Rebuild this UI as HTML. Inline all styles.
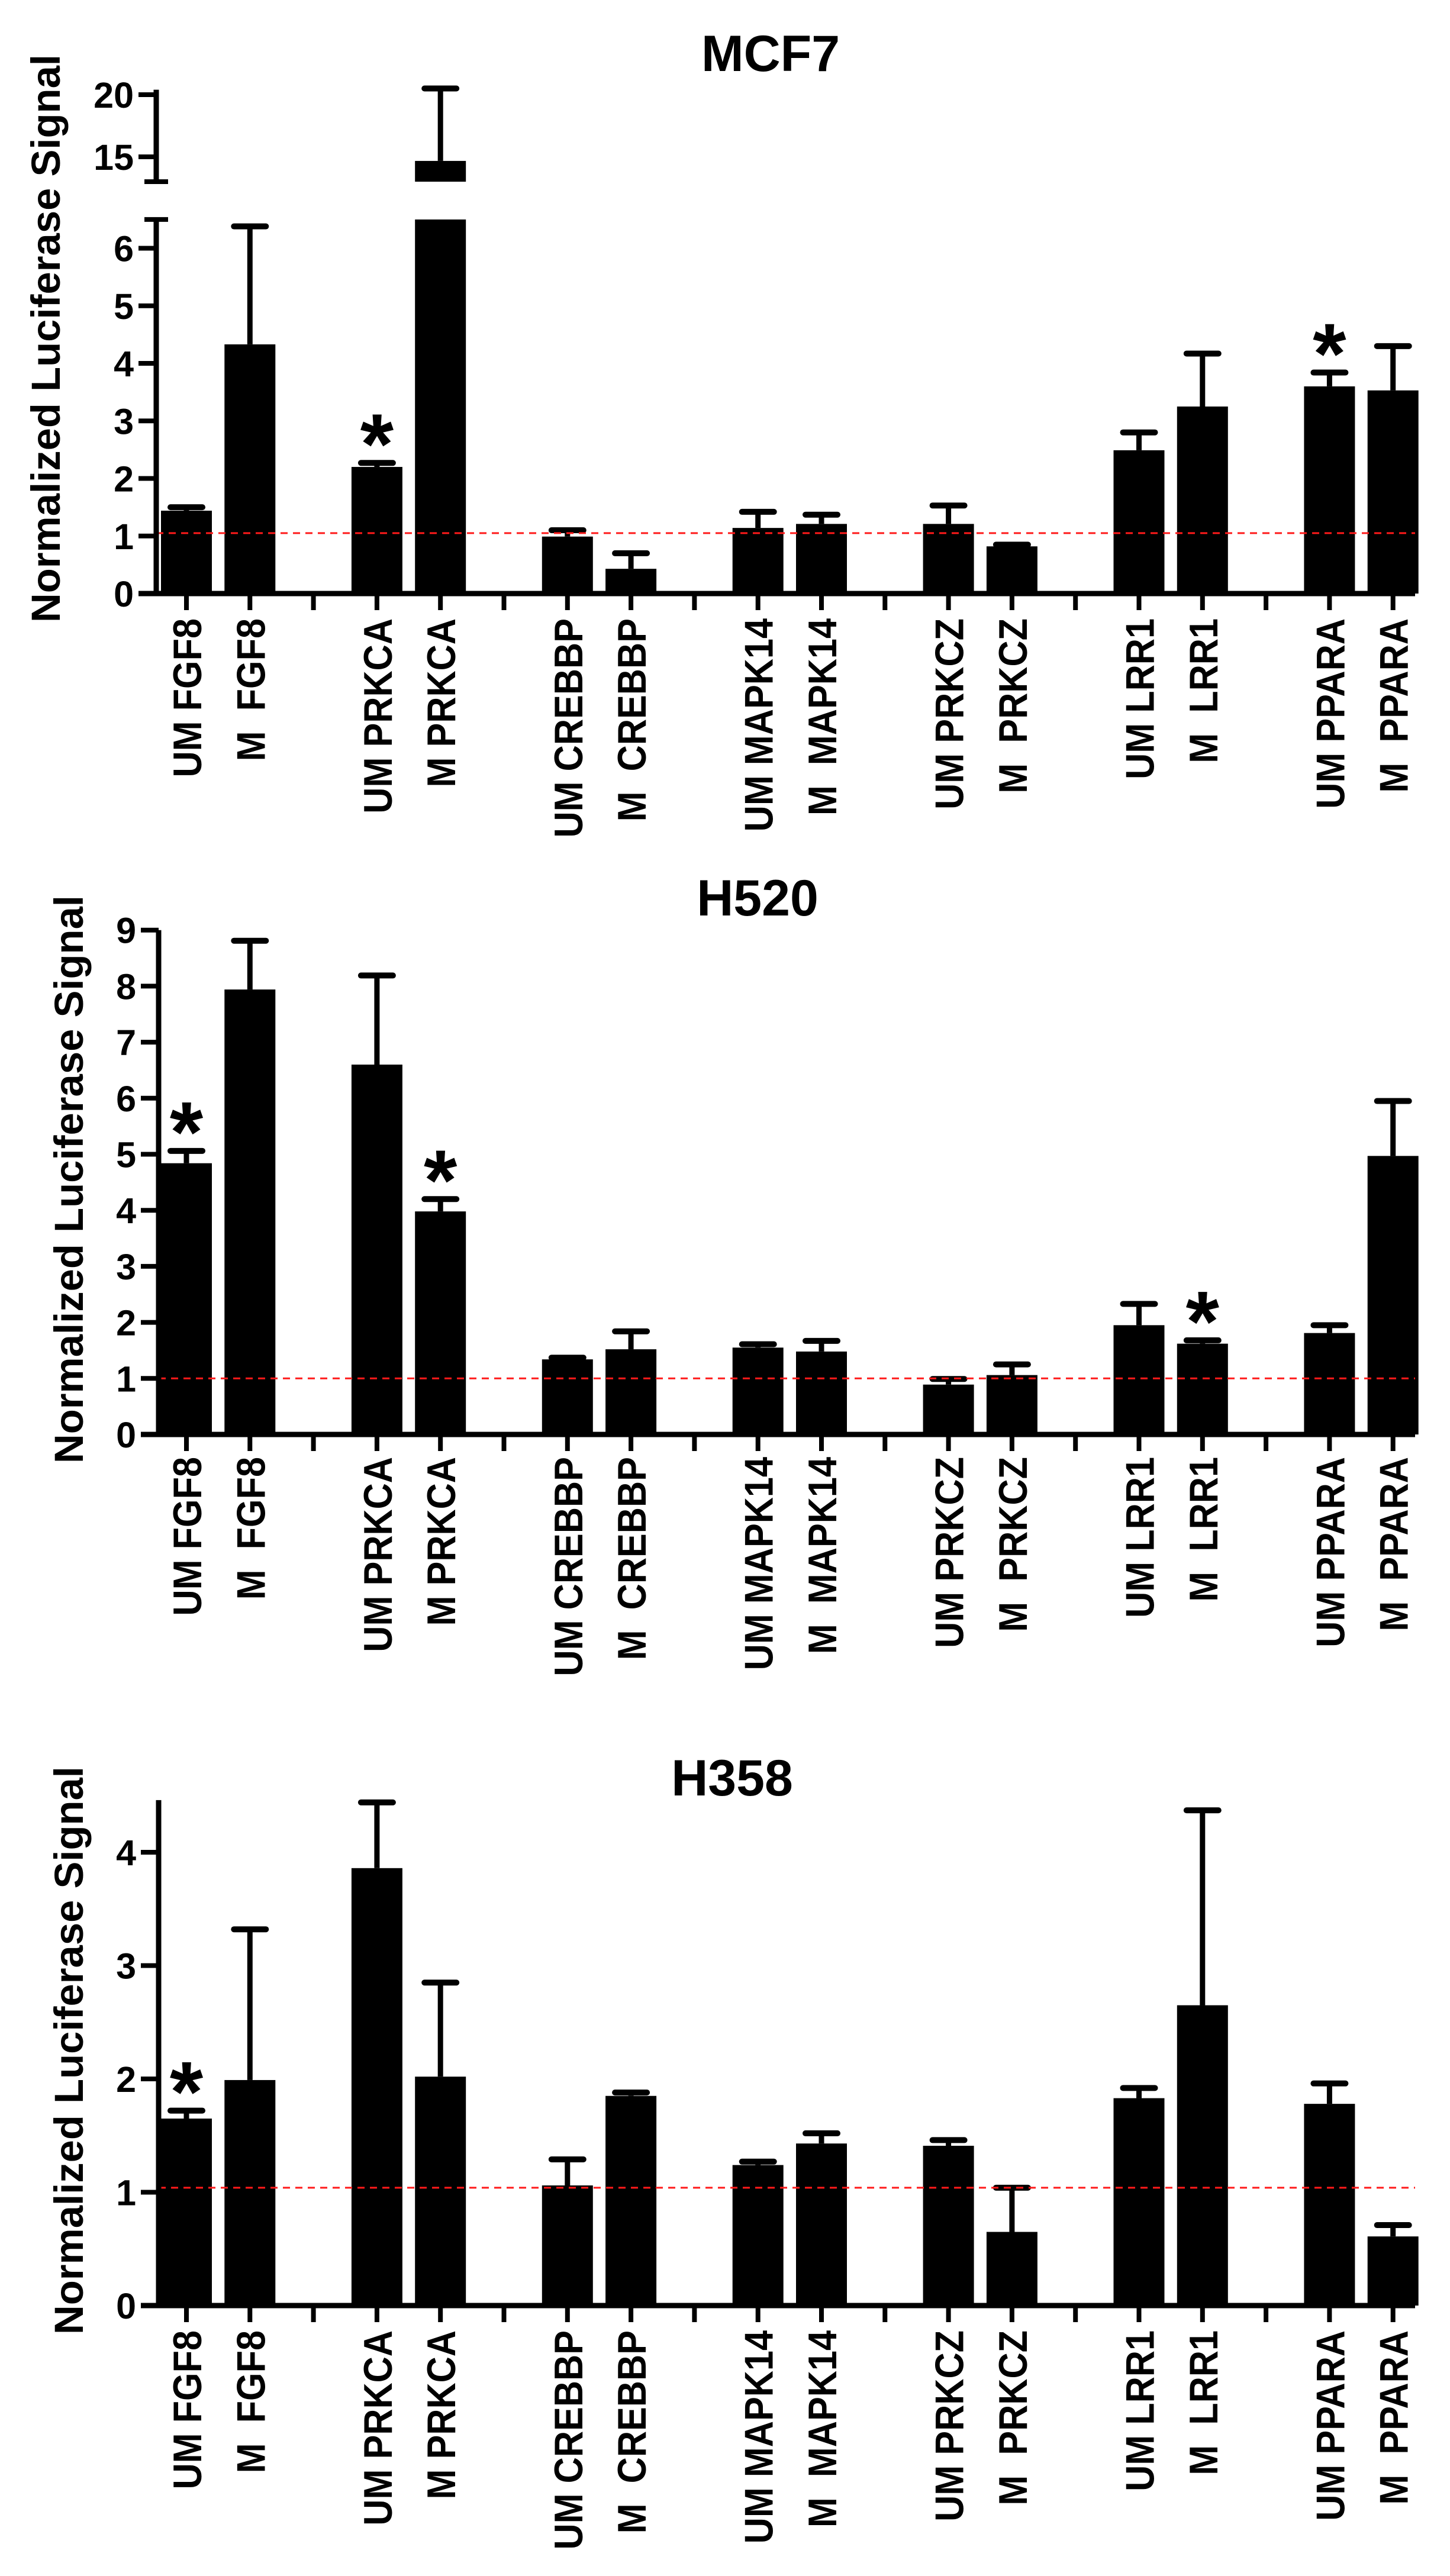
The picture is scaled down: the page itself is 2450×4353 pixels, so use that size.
<!DOCTYPE html>
<html><head><meta charset="utf-8"><style>
html,body{margin:0;padding:0;background:#fff;}
svg{display:block;}
text{font-family:"Liberation Sans",Arial,sans-serif;font-weight:bold;fill:#000;}
</style></head><body>
<svg id="fig" width="2450" height="4353" viewBox="0 0 2450 4353" xmlns="http://www.w3.org/2000/svg"></svg>
<script>
// ---- data ----
const categories = ["UM FGF8","M  FGF8","UM PRKCA","M PRKCA","UM CREBBP","M  CREBBP","UM MAPK14","M  MAPK14","UM PRKCZ","M  PRKCZ","UM LRR1","M  LRR1","UM PPARA","M  PPARA"];
const mcf7Values = [1.44,4.33,2.2,14.67,0.99,0.43,1.14,1.21,1.21,0.82,2.49,3.25,3.6,3.53];
const mcf7Errors = [0.06,2.05,0.07,5.83,0.11,0.27,0.28,0.16,0.32,0.03,0.31,0.92,0.24,0.77];
const mcf7Stars = [2,12];
const mcf7TickLabels = ["0","1","2","3","4","5","6"];
const mcf7UpperTickLabels = ["15","20"];
const h520Values = [4.84,7.94,6.6,3.98,1.34,1.52,1.55,1.48,0.89,1.06,1.95,1.62,1.81,4.97];
const h520Errors = [0.22,0.87,1.59,0.22,0.03,0.32,0.06,0.19,0.1,0.19,0.38,0.06,0.14,0.98];
const h520Stars = [0,3,11];
const h520TickLabels = ["0","1","2","3","4","5","6","7","8","9"];
const h358Values = [1.65,1.99,3.86,2.02,1.06,1.85,1.24,1.43,1.41,0.65,1.83,2.65,1.78,0.61];
const h358Errors = [0.07,1.33,0.58,0.83,0.23,0.03,0.03,0.09,0.05,0.39,0.09,1.72,0.18,0.1];
const h358Stars = [0];
const h358TickLabels = ["0","1","2","3","4"];

const NS = "http://www.w3.org/2000/svg";
const svg = document.getElementById("fig");
function mk(tag, attrs, parent){
  const e = document.createElementNS(NS, tag);
  for (const k in attrs) e.setAttribute(k, attrs[k]);
  (parent||svg).appendChild(e);
  return e;
}
const X0 = 315, STEP = 107.3, BARW = 86;
function xPos(i){ const slot = Math.floor(i/2)*3 + (i%2); return X0 + slot*STEP; }

function drawChart(cfg){
  const g = mk("g", {});
  
  
  const ax = cfg.axisX, base = cfg.base, y = cfg.y;
  const t = mk("text", {x: cfg.titleX, y: cfg.titleY, "font-size": 86, "text-anchor": "middle"}, g);
  t.textContent = cfg.title;
  
  
  const yt = mk("text", {x: 0, y: 0, "font-size": 69, "text-anchor": "middle", textLength: 960, lengthAdjust: "spacingAndGlyphs",
    transform: "translate(" + (cfg.yTitleX + 25) + "," + cfg.yTitleCY + ") rotate(-90)"}, g);
  yt.textContent = "Normalized Luciferase Signal";
  
  
  cfg.values.forEach((v, i) => {
    const xc = xPos(i);
    const top = y(v), capY = y(v + cfg.errors[i]);
    if (cfg.broken && v > 6.5) {
      const b1 = mk("rect", {x: xc - BARW/2, y: y(6.5), width: BARW, height: base - y(6.5), fill: "#000"}, g);
      
      
      const b2 = mk("rect", {x: xc - BARW/2, y: top, width: BARW, height: y(13) - top, fill: "#000"}, g);
      
      
    } else {
      const b = mk("rect", {x: xc - BARW/2, y: top, width: BARW, height: base - top, fill: "#000"}, g);
      
      
    }
    const el = mk("line", {x1: xc, x2: xc, y1: top, y2: capY, stroke: "#000", "stroke-width": 9}, g);
    
    
    const cp = mk("line", {x1: xc - 27, x2: xc + 27, y1: capY, y2: capY, stroke: "#000", "stroke-width": 10, "stroke-linecap": "round"}, g);
    
    
    if (cfg.stars.indexOf(i) >= 0) {
      const s = mk("text", {x: xc, y: capY + 18, "font-size": 145, "text-anchor": "middle"}, g);
      s.textContent = "*";
      
      
    }
    const tk = mk("line", {x1: xc, x2: xc, y1: base, y2: base + 28, stroke: "#000", "stroke-width": 8}, g);
    
    
    const lb = mk("text", {x: 0, y: 0, "font-size": 68, "text-anchor": "end", "xml:space": "preserve",
      transform: "translate(" + (xc + 25) + "," + cfg.labelTop + ") rotate(-90) scale(0.9,1)"}, g);
    lb.setAttribute("style", "white-space:pre");
    lb.textContent = categories[i];
    
    
  });
  for (let k = 0; k < 6; k++) {
    const xg = X0 + (k*3 + 2)*STEP;
    const gt = mk("line", {x1: xg, x2: xg, y1: base, y2: base + 28, stroke: "#000", "stroke-width": 8}, g);
    
    
  }
  const rl = mk("line", {x1: ax, x2: 2391, y1: y(cfg.refVal), y2: y(cfg.refVal), stroke: "#ff1a1a", "stroke-width": 3, "stroke-dasharray": "12 9"}, g);
  
  
  const xa = mk("line", {x1: ax - 30, x2: 2391, y1: base, y2: base, stroke: "#000", "stroke-width": 9}, g);
  
  
  if (cfg.broken) {
    const ya = mk("line", {x1: ax, x2: ax, y1: base, y2: y(6.5), stroke: "#000", "stroke-width": 9}, g);
    
    
    const yb = mk("line", {x1: ax - 20, x2: ax + 20, y1: y(6.5), y2: y(6.5), stroke: "#000", "stroke-width": 8}, g);
    
    
    const yu = mk("line", {x1: ax, x2: ax, y1: y(13), y2: y(20.4), stroke: "#000", "stroke-width": 9}, g);
    
    
    const yc = mk("line", {x1: ax - 20, x2: ax + 20, y1: y(13), y2: y(13), stroke: "#000", "stroke-width": 8}, g);
    
    
    cfg.upperTicks.forEach(l => addYTick(g, cfg, +l, l));
  } else {
    const ya = mk("line", {x1: ax, x2: ax, y1: base, y2: y(cfg.axisTop), stroke: "#000", "stroke-width": 9}, g);
    
    
  }
  cfg.ticks.forEach(l => addYTick(g, cfg, +l, l));
}
function addYTick(g, cfg, v, l){
  const yy = cfg.y(v);
  const tl = mk("line", {x1: cfg.axisX - 30, x2: cfg.axisX, y1: yy, y2: yy, stroke: "#000", "stroke-width": 8}, g);
  
  
  const tx = mk("text", {x: cfg.axisX - 38, y: yy + 22, "font-size": 61, "text-anchor": "end"}, g);
  tx.textContent = l;
  
  
}

drawChart({name: "mcf7", title: "MCF7", titleX: 1302, titleY: 120, axisX: 264, base: 1003, broken: true,
  y: v => v <= 6.5 ? 1003 - v*97.25 : 160 + (20 - v)*21,
  values: mcf7Values, errors: mcf7Errors, stars: mcf7Stars, ticks: mcf7TickLabels, upperTicks: mcf7UpperTickLabels,
  refVal: 1.05, labelTop: 1045, yTitleX: 76, yTitleCY: 572});
drawChart({name: "h520", title: "H520", titleX: 1280, titleY: 1547, axisX: 268, base: 2424, axisTop: 9,
  y: v => 2424 - v*94.7,
  values: h520Values, errors: h520Errors, stars: h520Stars, ticks: h520TickLabels,
  refVal: 1.0, labelTop: 2462, yTitleX: 115, yTitleCY: 1993});
drawChart({name: "h358", title: "H358", titleX: 1237, titleY: 3034, axisX: 268, base: 3896, axisTop: 4.46,
  y: v => 3896 - v*191.5,
  values: h358Values, errors: h358Errors, stars: h358Stars, ticks: h358TickLabels,
  refVal: 1.04, labelTop: 3938, yTitleX: 115, yTitleCY: 3465});
</script>
</body></html>
